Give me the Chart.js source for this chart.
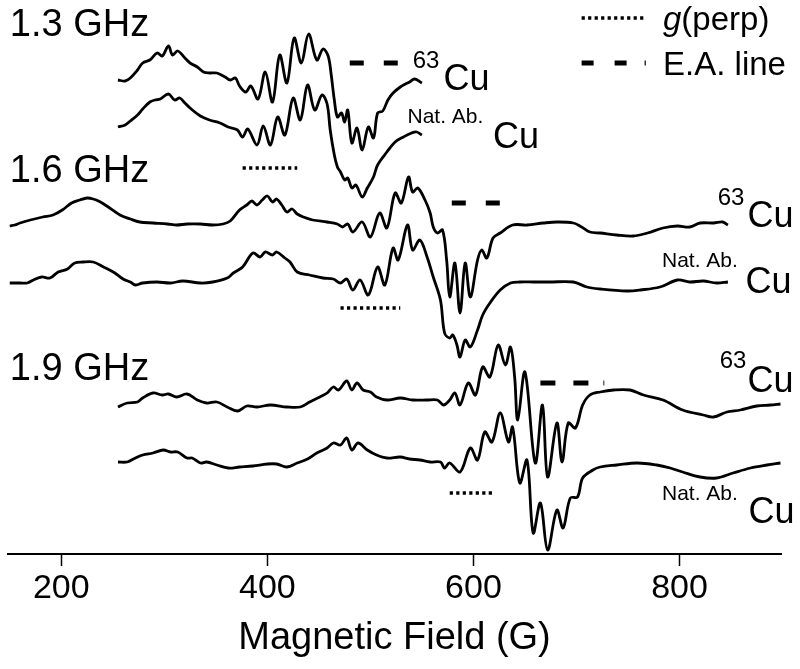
<!DOCTYPE html>
<html>
<head>
<meta charset="utf-8">
<script src="https://cdn.jsdelivr.net/npm/chart.js@4.4.1/dist/chart.umd.min.js"></script>
<style>
  body { margin: 0; background: #fff; }
  canvas { display: block; }
</style>
</head>
<body>
<canvas id="chart" width="800" height="669"></canvas>
<script>
// field (G) vs stacked derivative signal (arb. units, offsets already added)
const tickValues = [200, 400, 600, 800];

const trace13Cu63 = [[255,474],[262,473],[267,476],[274,484],[279,491],[286,494],[293,501],[298,498],[304,508],[308,499],[313,503],[320,496],[325,491],[332,487],[338,482],[344,481],[351,481],[359,477],[364,474],[369,476],[373,468],[379,462],[384,468],[391,455],[398,482],[405,452],[412,499],[419,471],[426,516],[433,491],[440,520],[448,494],[454,505],[459,498],[462,479],[465,454],[468,437],[472,441],[475,432],[478,444],[482,411],[487,426],[492,404],[498,427],[503,416],[507,441],[512,443],[517,454],[522,461],[529,467],[534,470],[538,472],[543,475],[550,471]];

const trace13NatAb = [[255,427],[262,429],[267,433],[274,439],[279,445],[286,452],[291,454],[296,455],[304,460],[310,454],[315,456],[320,451],[325,446],[335,438],[344,434],[354,431],[362,427],[371,424],[376,417],[381,425],[390,409],[396,428],[403,409],[410,437],[417,419],[425,456],[432,434],[439,469],[446,444],[453,459],[458,450],[461,424],[465,399],[468,387],[471,382],[475,374],[478,376],[482,366],[486,369],[492,357],[497,366],[503,377],[507,389],[516,402],[524,412],[532,417],[540,421],[545,422],[550,419]];

const trace16Cu63 = [[150,328],[155,329],[160,331],[170,334],[182,337],[192,339],[201,344],[210,351],[218,354],[225,356],[231,355],[238,352],[247,346],[257,339],[267,335],[276,332],[289,331],[303,330],[312,329],[322,330],[335,330],[347,329],[357,330],[364,333],[373,344],[380,349],[385,353],[390,349],[395,354],[400,358],[405,352],[409,355],[414,349],[419,342],[424,345],[429,340],[435,337],[444,334],[458,332],[468,330],[473,327],[478,330],[483,322],[492,332],[500,317],[509,341],[516,326],[524,361],[530,351],[537,377],[541,362],[546,366],[553,354],[558,341],[561,327],[565,321],[570,324],[574,294],[577,257],[582,291],[587,241],[592,291],[597,257],[604,294],[608,304],[613,296],[619,316],[626,321],[638,329],[652,329],[668,331],[681,332],[697,331],[705,327],[713,322],[723,321],[739,319],[755,318],[769,321],[784,326],[798,328],[810,327],[820,331],[833,331],[842,332],[847,329]];

const trace16NatAb = [[150,271],[160,271],[167,271],[173,274],[181,277],[189,276],[197,282],[206,285],[213,291],[221,292],[231,292],[241,287],[252,281],[260,275],[267,272],[272,269],[279,271],[293,272],[306,271],[318,273],[335,271],[347,272],[361,276],[367,281],[376,287],[386,301],[393,297],[398,302],[405,299],[409,302],[417,296],[422,292],[429,282],[441,279],[454,276],[464,275],[471,271],[477,275],[483,264],[490,274],[498,259],[507,287],[514,269],[522,306],[527,294],[536,329],[541,304],[548,314],[555,297],[561,277],[568,254],[572,221],[577,216],[580,219],[584,209],[587,197],[592,214],[597,207],[604,224],[609,239],[616,251],[626,264],[636,271],[645,272],[658,272],[674,272],[697,272],[710,267],[723,265],[749,263],[762,264],[781,267],[798,274],[810,272],[823,273],[836,271],[847,272]];

const trace19Cu63 = [[255,147],[264,151],[274,152],[279,156],[289,161],[298,159],[304,160],[312,157],[322,160],[332,154],[341,151],[351,152],[361,147],[371,143],[380,148],[390,147],[403,149],[419,147],[432,147],[441,152],[451,157],[458,161],[464,167],[469,164],[477,173],[482,164],[487,171],[493,164],[500,162],[506,157],[516,154],[529,156],[541,154],[555,154],[565,154],[571,149],[577,154],[582,161],[587,149],[595,171],[602,159],[609,187],[616,177],[624,209],[631,189],[636,207],[640,177],[643,134],[650,182],[660,91],[667,149],[672,77],[681,131],[686,92],[692,131],[699,126],[706,149],[713,159],[723,162],[736,164],[752,164],[765,159],[784,154],[803,144],[823,139],[833,137],[846,142],[859,144],[875,148],[888,149],[898,150]];

const trace19NatAb = [[255,92],[264,92],[270,95],[279,99],[289,101],[299,104],[306,102],[313,102],[322,96],[327,96],[335,91],[341,92],[351,89],[362,86],[373,87],[386,88],[400,90],[409,90],[419,87],[429,91],[439,95],[448,101],[458,106],[464,111],[471,109],[477,116],[482,104],[488,111],[497,104],[506,99],[516,96],[529,97],[538,95],[548,94],[558,92],[568,92],[572,86],[577,91],[587,82],[597,106],[604,94],[611,122],[618,112],[626,141],[634,112],[638,127],[645,71],[652,94],[658,21],[665,51],[672,4],[681,44],[687,26],[694,56],[701,57],[706,76],[716,84],[723,87],[739,89],[759,91],[778,89],[791,86],[803,82],[820,77],[836,76],[852,81],[869,86],[885,89],[898,91]];

// marker segments [startField, endField, level]
const gPerpMarks = [[376, 429, 386], [471, 529, 246], [577, 621, 61]];
const eaMarks = [[480, 527, 491], [579, 626, 351]];
const eaMarkLong = [665, 727, 171];
const legendDotted = [705, 767, 536];
const legendDashed = [705, 768, 491];

// text annotations [text, field, level, size, style]
const labels = [
  ['1.3 GHz', 150, 518, 38, ''],
  ['1.6 GHz', 150, 372, 38, ''],
  ['1.9 GHz', 150, 174, 38, ''],
  ['63', 541, 486, 24, ''], ['Cu', 571, 464, 36, ''],
  ['Nat. Ab.', 536, 431, 21, ''], ['Cu', 619, 406, 36, ''],
  ['63', 837, 349, 24, ''], ['Cu', 866, 327, 36, ''],
  ['Nat. Ab.', 783, 287, 21, ''], ['Cu', 864, 261, 36, ''],
  ['63', 839, 186, 24, ''], ['Cu', 866, 162, 36, ''],
  ['Nat. Ab.', 783, 54, 21, ''], ['Cu', 867, 31, 36, ''],
  ['g', 784, 524, 33, 'italic'], ['(perp)', 0, 524, 33, 'after'],
  ['E.A. line', 784, 479, 33, '']
];

const FONT = '"Liberation Sans", Arial, Helvetica, sans-serif';

function traceSet(points) {
  return {
    data: points.map(p => ({x: p[0], y: p[1]})),
    borderColor: '#000',
    borderWidth: 2.8,
    pointRadius: 0,
    tension: 0.35,
    fill: false,
    clip: false
  };
}

function segSet(seg, dash, width) {
  return {
    data: [{x: seg[0], y: seg[2]}, {x: seg[1], y: seg[2]}],
    borderColor: '#000',
    borderWidth: width,
    borderDash: dash,
    borderCapStyle: 'butt',
    pointRadius: 0,
    tension: 0,
    clip: false
  };
}

const datasets = [
  traceSet(trace13Cu63), traceSet(trace13NatAb),
  traceSet(trace16Cu63), traceSet(trace16NatAb),
  traceSet(trace19Cu63), traceSet(trace19NatAb)
];
gPerpMarks.forEach(m => datasets.push(segSet(m, [3.2, 3.3], 3.5)));
eaMarks.forEach(m => datasets.push(segSet(m, [14, 20], 5)));
datasets.push(segSet(eaMarkLong, [15, 18, 15, 15, 1.2, 200], 5));
datasets.push(segSet(legendDotted, [3.2, 3.3], 3.5));
datasets.push(segSet(legendDashed, [12, 21, 12, 18, 1.2, 200], 5));

const textPlugin = {
  id: 'textLabels',
  afterDatasetsDraw(chart) {
    const c = chart.ctx;
    const xs = chart.scales.x, ys = chart.scales.y;
    c.save();
    c.fillStyle = '#000';
    c.textBaseline = 'alphabetic';
    let lastEnd = 0;
    labels.forEach(l => {
      const [txt, fx, lv, size, style] = l;
      c.font = (style === 'italic' ? 'italic ' : '') + size + 'px ' + FONT;
      const px = style === 'after' ? lastEnd : xs.getPixelForValue(fx);
      const py = ys.getPixelForValue(lv);
      c.fillText(txt, px, py);
      lastEnd = px + c.measureText(txt).width;
    });
    c.restore();
  }
};

const ctx = document.getElementById('chart').getContext('2d');
const chart = new Chart(ctx, {
  type: 'line',
  data: { datasets: datasets },
  plugins: [textPlugin],
  options: {
    responsive: false,
    animation: false,
    devicePixelRatio: 1,
    layout: { padding: { left: 8, right: 19, top: 0, bottom: 0 } },
    plugins: { legend: { display: false }, tooltip: { enabled: false } },
    scales: {
      x: {
        type: 'linear',
        min: 148.3,
        max: 898.5,
        afterBuildTicks: s => { s.ticks = tickValues.map(v => ({ value: v })); },
        afterFit: s => { s.height = 115; },
        grid: { drawOnChartArea: false, drawTicks: true, tickLength: 12, tickWidth: 1.5, tickColor: '#000' },
        border: { display: true, color: '#000', width: 2 },
        ticks: { color: '#000', font: { family: FONT, size: 34 }, padding: 2, maxRotation: 0 },
        title: {
          display: true,
          text: 'Magnetic Field (G)',
          color: '#000',
          font: { family: FONT, size: 38 },
          padding: { top: 0, bottom: 8 }
        }
      },
      y: { display: false, min: 0, max: 554 }
    }
  }
});
</script>
</body>
</html>
